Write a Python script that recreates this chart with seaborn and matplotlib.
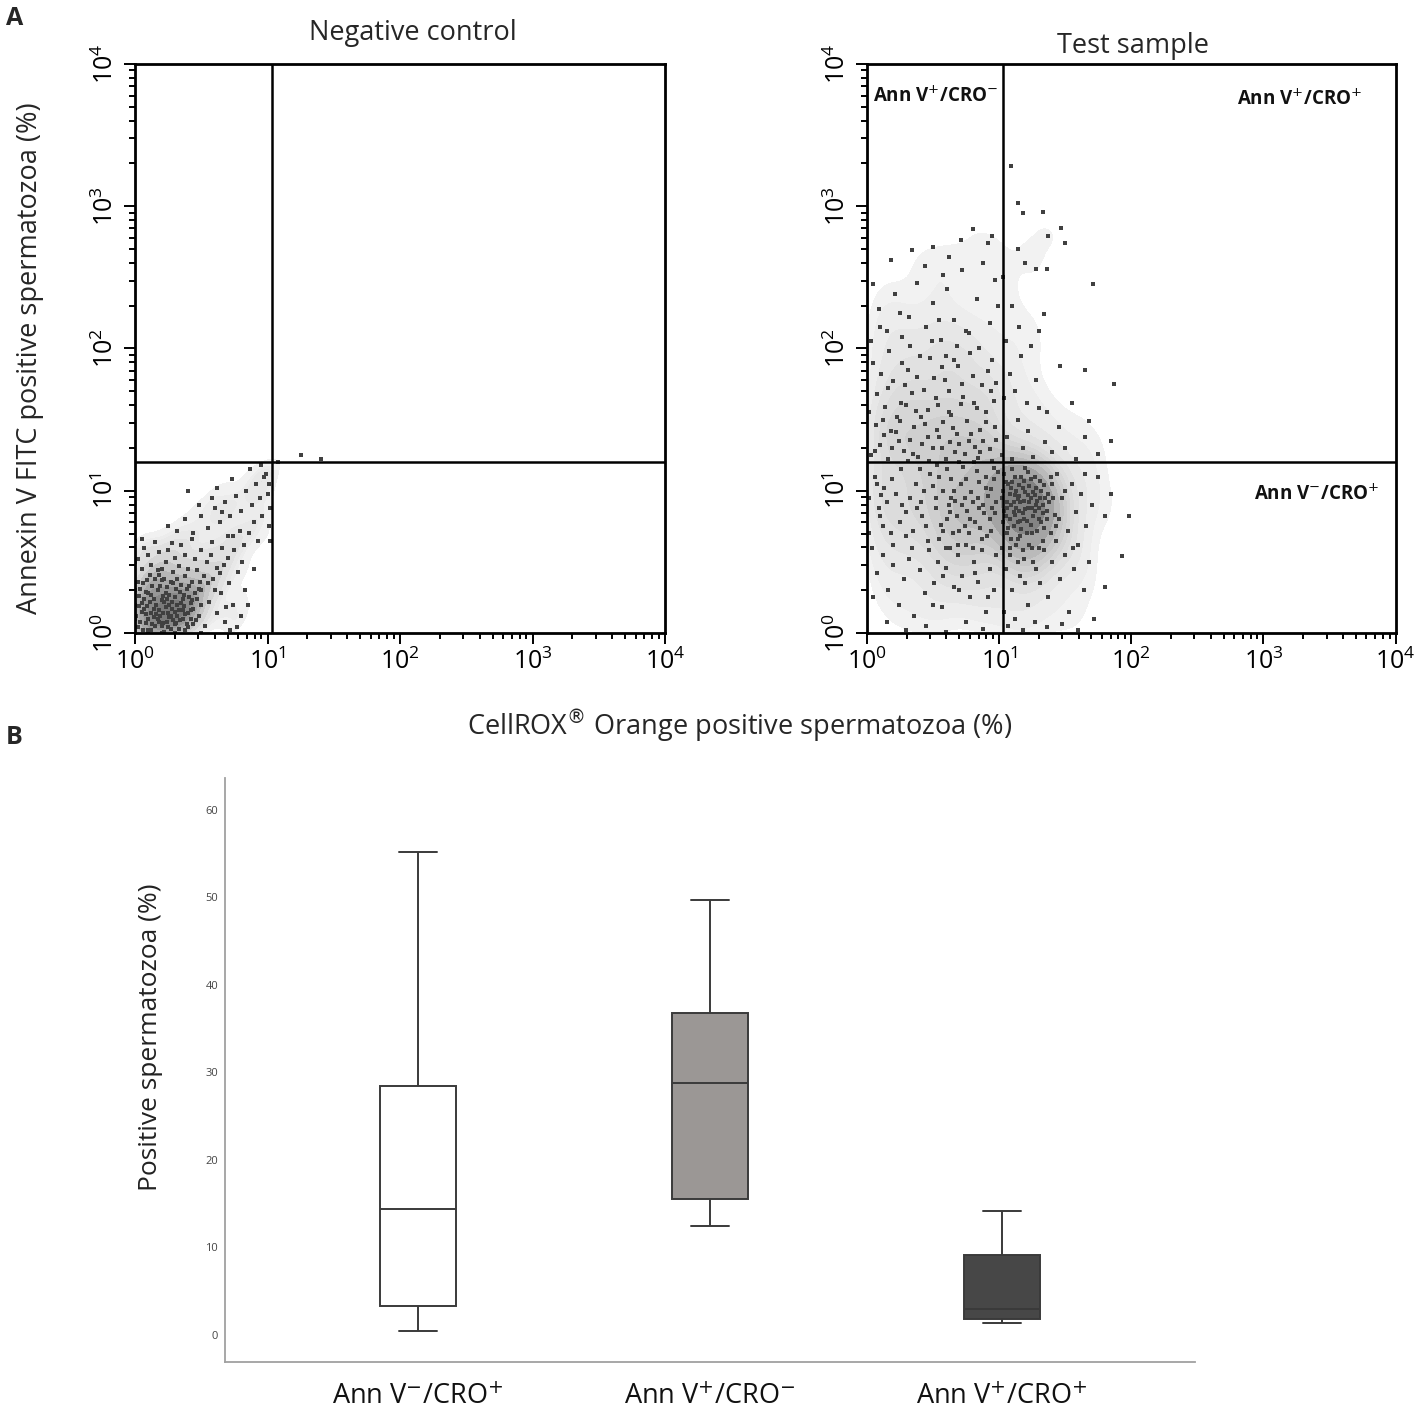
import numpy as np
import pandas as pd
import matplotlib
matplotlib.use("Agg")
import matplotlib.pyplot as plt
import seaborn as sns
from matplotlib.colors import LinearSegmentedColormap

# ---- panel A: dot plots, values read as log10 units off the 4-decade axes ----
gate_x_log = 1.03   # CellROX Orange gate
gate_y_log = 1.2    # Annexin V gate

neg_core = [(0.02,0.04),(0.05,0.15),(0.08,0.07),(0.11,0.22),(0.14,0.11),(0.17,0.3),(0.2,0.05),(0.23,0.18),(0.26,0.27),(0.29,0.09),
            (0.32,0.2),(0.35,0.34),(0.38,0.13),(0.41,0.25),(0.44,0.06),(0.03,0.26),(0.06,0.35),(0.09,0.19),(0.12,0.02),(0.15,0.38),
            (0.18,0.16),(0.21,0.26),(0.24,0.08),(0.27,0.36),(0.3,0.15),(0.33,0.03),(0.36,0.24),(0.39,0.31),(0.42,0.16),(0.45,0.28),
            (0.01,0.12),(0.04,0.31),(0.07,0.24),(0.1,0.1),(0.13,0.33),(0.16,0.2),(0.19,0.12),(0.22,0.38),(0.25,0.14),(0.28,0.22),
            (0.31,0.07),(0.34,0.29),(0.37,0.19),(0.4,0.04),(0.43,0.36),(0.06,0.02),(0.12,0.27),(0.18,0.08),(0.24,0.32),(0.3,0.25),
            (0.36,0.1),(0.42,0.21),(0.09,0.37),(0.15,0.05),(0.21,0.14),(0.27,0.03),(0.33,0.16),(0.39,0.06),(0.03,0.19),(0.26,0.2),
            (0.14,0.17),(0.2,0.23),(0.32,0.12),(0.08,0.13),(0.22,0.01),(0.38,0.4),(0.17,0.44),(0.11,0.41),(0.05,0.45),(0.29,0.43),
            (0.04,0.08),(0.07,0.17),(0.1,0.28),(0.13,0.06),(0.16,0.13),(0.19,0.33),(0.22,0.22),(0.25,0.04),(0.28,0.17),(0.31,0.31),
            (0.34,0.09),(0.37,0.27),(0.4,0.14),(0.43,0.23),(0.46,0.09),(0.02,0.36),(0.08,0.29),(0.14,0.24),(0.2,0.37),(0.26,0.11),
            (0.32,0.38),(0.38,0.02),(0.44,0.17),(0.5,0.2),(0.1,0.02),(0.17,0.1),(0.23,0.28),(0.29,0.35),(0.35,0.21),(0.41,0.33),
            (0.05,0.21),(0.12,0.14),(0.18,0.41),(0.24,0.24),(0.3,0.06),(0.36,0.16),(0.42,0.1),(0.48,0.31),(0.27,0.12),(0.21,0.07),
            (0.0,0.1),(0.0,0.3),(0.0,0.5),(0.0,0.2),(0.0,0.65),(0.1,0.0),(0.3,0.0),(0.5,0.0),(0.2,0.0)]
neg_middle = [(0.02,0.52),(0.07,0.6),(0.12,0.48),(0.18,0.57),(0.23,0.5),(0.28,0.63),(0.33,0.47),(0.38,0.55),(0.43,0.66),(0.47,0.44),
              (0.5,0.58),(0.54,0.5),(0.58,0.64),(0.62,0.46),(0.66,0.6),(0.7,0.53),(0.74,0.68),(0.48,0.12),(0.5,0.3),(0.53,0.05),
              (0.56,0.22),(0.59,0.38),(0.62,0.14),(0.65,0.28),(0.68,0.08),(0.71,0.35),(0.74,0.2),(0.77,0.04),(0.52,0.4),(0.6,0.3),
              (0.47,0.24),(0.55,0.35),(0.64,0.42),(0.05,0.66),(0.15,0.64),(0.25,0.58),(0.35,0.62),(0.45,0.52),(0.57,0.55),(0.67,0.48),
              (0.1,0.55),(0.2,0.45),(0.3,0.53),(0.4,0.45),(0.49,0.36),(0.72,0.02),(0.8,0.12),(0.83,0.3),(0.78,0.43),(0.69,0.18)]
neg_tail = [(0.32,0.72),(0.38,0.8),(0.44,0.7),(0.5,0.82),(0.55,0.74),(0.6,0.88),(0.64,0.78),(0.68,0.92),(0.72,0.82),(0.76,0.96),
            (0.8,0.86),(0.84,1.0),(0.88,0.9),(0.91,1.05),(0.94,0.95),(0.97,1.1),(1.0,0.98),(1.02,0.88),(1.01,0.75),(1.02,0.65),
            (1.01,1.05),(0.99,1.12),(0.86,0.7),(0.9,0.78),(0.79,0.72),(0.7,0.68),(0.82,0.62),(0.75,0.58),(0.93,0.65),(0.96,0.82),
            (0.58,0.95),(0.48,0.9),(0.25,0.75),(0.4,1.0),(0.62,1.02),(0.87,1.15),(0.73,1.08),(0.95,1.18),(0.81,0.5),(0.9,0.45),
            (0.85,0.2),(0.66,0.85),(1.08,1.2),(1.25,1.25),(1.4,1.22)]

test_upper_left = [(0.03,1.25),(0.1,1.32),(0.16,1.22),(0.22,1.41),(0.28,1.28),(0.33,1.36),(0.39,1.24),(0.44,1.47),(0.5,1.3),(0.55,1.38),
                   (0.6,1.22),(0.65,1.44),(0.7,1.33),(0.74,1.26),(0.79,1.4),(0.84,1.23),(0.88,1.35),(0.93,1.29),(0.97,1.45),(0.07,1.46),
                   (0.13,1.39),(0.19,1.3),(0.25,1.49),(0.36,1.45),(0.47,1.21),(0.58,1.48),(0.67,1.27),(0.76,1.49),(0.86,1.43),(0.95,1.21),
                   (0.31,1.21),(0.42,1.33),(0.53,1.43),(0.63,1.34),(0.82,1.31),
                   (0.02,1.55),(0.08,1.68),(0.14,1.59),(0.2,1.77),(0.26,1.62),(0.31,1.85),(0.37,1.56),(0.43,1.71),(0.48,1.93),(0.54,1.6),
                   (0.59,1.78),(0.64,1.53),(0.69,1.88),(0.73,1.66),(0.78,1.97),(0.83,1.58),(0.87,1.74),(0.92,1.84),(0.96,1.63),(0.05,1.9),
                   (0.11,1.82),(0.17,1.98),(0.23,1.52),(0.34,1.69),(0.4,1.95),(0.46,1.57),(0.57,1.87),(0.62,1.7),(0.71,1.61),(0.8,1.81),
                   (0.9,1.55),(0.98,1.76),(0.29,1.74),(0.51,1.79),(0.66,1.92),
                   (0.03,2.05),(0.09,2.28),(0.15,2.12),(0.21,2.38),(0.27,2.08),(0.32,2.22),(0.38,2.46),(0.45,2.15),(0.5,2.32),(0.56,2.06),
                   (0.61,2.42),(0.66,2.2),(0.72,2.55),(0.77,2.11),(0.83,2.35),(0.88,2.6),(0.93,2.18),(0.97,2.48),(0.05,2.45),(0.34,2.69),
                   (0.5,2.71),(0.62,2.64),(0.71,2.76),(0.8,2.84),(0.95,2.79),(0.92,2.74),(0.44,2.58),(0.18,2.62),(0.58,2.52),(0.99,2.3),
                   (0.25,2.25),(0.68,2.02),
                   (0.06,1.28),(0.12,1.5),(0.18,1.42),(0.24,1.35),(0.3,1.6),(0.35,1.26),(0.41,1.52),(0.46,1.38),(0.52,1.65),(0.57,1.3),
                   (0.62,1.55),(0.68,1.4),(0.72,1.75),(0.77,1.35),(0.81,1.62),(0.86,1.27),(0.9,1.48),(0.94,1.7),(0.98,1.36),(0.16,1.72),
                   (0.27,1.9),(0.38,1.8),(0.49,2.05),(0.6,1.95),(0.75,2.12),(0.85,2.0),(0.95,1.92),(0.1,2.15),(0.33,2.02),(0.55,2.2)]
test_lower_left = [(0.02,0.95),(0.06,1.1),(0.1,0.82),(0.13,1.02),(0.18,0.7),(0.22,0.98),(0.26,1.15),(0.3,0.85),(0.34,0.6),(0.37,1.05),
                   (0.41,0.92),(0.45,0.75),(0.48,1.12),(0.52,0.88),(0.55,0.66),(0.58,1.0),(0.61,0.8),(0.64,1.08),(0.67,0.93),(0.7,0.72),
                   (0.73,1.17),(0.76,0.86),(0.79,0.99),(0.82,0.78),(0.85,1.06),(0.88,0.9),(0.91,0.68),(0.94,1.01),(0.97,0.84),(0.99,1.13),
                   (0.04,0.6),(0.08,0.42),(0.12,0.55),(0.16,0.3),(0.2,0.48),(0.24,0.2),(0.28,0.38),(0.32,0.52),(0.36,0.12),(0.4,0.44),
                   (0.44,0.28),(0.47,0.58),(0.51,0.35),(0.54,0.5),(0.57,0.18),(0.6,0.46),(0.63,0.6),(0.66,0.32),(0.69,0.55),(0.72,0.4),
                   (0.75,0.62),(0.78,0.25),(0.81,0.5),(0.84,0.36),(0.87,0.58),(0.9,0.15),(0.93,0.45),(0.96,0.3),(0.98,0.55),(0.15,0.08),
                   (0.3,0.02),(0.45,0.05),(0.6,0.01),(0.75,0.08),(0.88,0.03),(0.05,0.25),(0.02,0.7),(0.11,0.97),(0.25,0.78),(0.38,0.88),
                   (0.5,1.03),(0.62,0.9),(0.71,1.05),(0.8,0.92),(0.86,0.74),(0.92,0.96),(0.96,1.08),(0.68,0.82),(0.56,0.76),(0.43,1.0),
                   (0.83,1.14),(0.77,0.7),(0.9,1.1),(0.95,0.88),(0.65,0.7),(0.74,0.95),(0.53,1.18),(0.35,0.72),(0.19,1.08),(0.09,0.88),
                   (0.52,0.95),(0.55,1.1),(0.58,0.72),(0.61,1.15),(0.63,0.85),(0.66,1.0),(0.69,0.62),(0.72,0.9),(0.75,1.08),(0.78,0.8),
                   (0.81,1.2),(0.84,0.95),(0.87,0.66),(0.9,1.02),(0.93,0.8),(0.96,1.16),(0.98,0.92),(0.6,0.6),(0.7,1.2),(0.8,0.6),
                   (0.89,0.84),(0.64,0.95),(0.74,0.75),(0.85,0.88),(0.94,0.72),(0.42,0.82),(0.33,0.95),(0.27,0.9),(0.15,0.92),(0.08,1.05),
                   (0.4,1.15),(0.46,0.65),(0.2,0.62),(0.12,0.75),(0.3,0.68),(0.58,0.4),(0.7,0.3),(0.82,0.42),(0.92,0.25),(0.5,0.2)]
test_lower_right = [(1.02,0.95),(1.05,0.82),(1.07,1.05),(1.09,0.9),(1.11,0.75),(1.13,1.0),(1.15,0.86),(1.17,1.1),(1.19,0.93),(1.21,0.79),
                    (1.23,1.03),(1.25,0.88),(1.27,0.97),(1.29,0.72),(1.31,1.07),(1.33,0.84),(1.35,0.95),(1.04,1.12),(1.06,0.7),(1.08,0.98),
                    (1.1,1.15),(1.12,0.83),(1.14,0.94),(1.16,0.68),(1.18,1.02),(1.2,0.87),(1.22,1.13),(1.24,0.76),(1.26,0.99),(1.28,0.9),
                    (1.3,0.8),(1.32,1.0),(1.34,0.74),(1.38,0.92),(1.4,1.05),(1.42,0.83),(1.03,0.78),(1.13,0.88),(1.19,1.07),(1.24,0.95),
                    (1.16,0.79),(1.27,1.1),(1.09,1.02),(1.21,0.7),(1.36,0.86),(1.11,0.92),(1.22,0.97),(1.15,1.04),(1.29,0.93),(1.06,0.88),
                    (1.02,0.6),(1.05,0.45),(1.08,0.55),(1.1,0.3),(1.13,0.62),(1.16,0.4),(1.19,0.52),(1.22,0.2),(1.25,0.6),(1.28,0.45),
                    (1.31,0.35),(1.34,0.58),(1.37,0.25),(1.4,0.5),(1.43,0.65),(1.46,0.38),(1.5,0.55),(1.53,0.15),(1.57,0.45),(1.6,0.62),
                    (1.64,0.3),(1.68,0.5),(1.72,0.1),(1.04,0.15),(1.07,0.05),(1.12,0.1),(1.18,0.02),(1.27,0.08),(1.36,0.04),(1.48,0.06),
                    (1.6,0.02),(1.45,0.8),(1.48,0.95),(1.52,0.72),(1.55,1.05),(1.58,0.85),(1.62,0.98),(1.66,0.75),(1.7,0.9),(1.75,1.1),
                    (1.8,0.82),(1.85,0.98),(1.98,0.82),(1.93,0.54),(1.8,0.32),(1.44,1.12),(1.5,1.0),(1.39,0.7),(1.33,0.65),(1.26,0.5),
                    (1.2,0.35),(1.14,0.5),(1.09,0.66),(1.56,0.6),(1.65,1.12),
                    (1.03,1.0),(1.06,0.92),(1.08,0.8),(1.1,1.06),(1.12,0.97),(1.14,0.78),(1.16,0.92),(1.18,0.84),(1.2,0.99),(1.22,0.88),
                    (1.24,1.08),(1.26,0.82),(1.28,1.02),(1.3,0.88),(1.32,0.78),(1.34,1.04),(1.37,0.98),(1.05,1.06),(1.07,0.74),(1.11,0.85),
                    (1.15,0.96),(1.17,0.73),(1.19,0.8),(1.23,0.92),(1.25,0.7),(1.27,0.86),(1.31,0.95),(1.33,0.9),(1.36,0.8),(1.39,1.1),
                    (1.41,0.95),(1.43,0.75),(1.04,0.86),(1.12,1.1),(1.2,1.16),(1.14,0.66),(1.23,0.62),(1.3,0.6),(1.18,0.58),(1.08,0.6)]
test_upper_right = [(1.02,1.25),(1.06,1.38),(1.1,1.22),(1.14,1.5),(1.18,1.3),(1.22,1.42),(1.26,1.24),(1.3,1.58),(1.35,1.34),(1.4,1.27),
                    (1.45,1.45),(1.5,1.3),(1.58,1.22),(1.65,1.38),(1.04,1.65),(1.08,1.82),(1.12,1.7),(1.17,1.95),(1.21,1.62),(1.28,1.78),
                    (1.36,1.55),(1.05,2.05),(1.1,2.3),(1.15,2.15),(1.03,2.5),(1.24,2.02),
                    (1.09,3.28),(1.14,3.02),(1.18,2.95),(1.33,2.96),(1.47,2.85),(1.37,2.79),(1.5,2.74),(1.71,2.45),(1.28,2.56),(1.36,2.56),
                    (1.2,2.6),(1.14,2.7),(1.34,2.24),(1.87,1.75),(1.65,1.85),(1.46,1.88),(1.3,2.12),(1.55,1.62),(1.68,1.49),(1.85,1.35),
                    (1.75,1.26)]

# ---- panel B: box plots (min, Q1, median, Q3, max) ----
box_labels = [r"Ann V$^{-}$/CRO$^{+}$", r"Ann V$^{+}$/CRO$^{-}$", r"Ann V$^{+}$/CRO$^{+}$"]
annv_neg_cro_pos = [0.4, 3.3, 14.4, 28.4, 55.1]
annv_pos_cro_neg = [12.4, 15.5, 28.8, 36.8, 49.7]
annv_pos_cro_pos = [1.3, 1.8, 3.0, 9.1, 14.2]
box_colors = ["#ffffff", "#9b9795", "#474747"]

sns.set_style("white")
plt.rcParams["font.family"] = ["Open Sans", "DejaVu Sans"]

fig = plt.figure(figsize=(14.2, 14.25), dpi=100)
ax_neg = fig.add_axes([0.0951, 0.5558, 0.3732, 0.3993])
ax_test = fig.add_axes([0.6104, 0.5558, 0.3725, 0.3993])
ax_box = fig.add_axes([0.1585, 0.0442, 0.6830, 0.4098])

dot_cmap = LinearSegmentedColormap.from_list("dots", ["#f4f4f4", "#737373"])


def dot_plot(ax, points):
    lx = np.array([p[0] for p in points])
    ly = np.array([p[1] for p in points])
    x = 10 ** lx
    y = 10 ** ly
    # smooth density wash under the dots to stand in for the overlapping events
    sns.kdeplot(x=x, y=y, log_scale=True, fill=True, cmap=dot_cmap,
                levels=np.linspace(0.1, 1.0, 12), bw_adjust=0.7, ax=ax)
    sns.scatterplot(x=x, y=y, marker="s", s=5, color="#404040", linewidth=0, ax=ax)
    ax.set_xscale("log")
    ax.set_yscale("log")
    ax.set_xlim(1, 1e4)
    ax.set_ylim(1, 1e4)
    ax.axvline(10 ** gate_x_log, color="black", lw=1.8)
    ax.axhline(10 ** gate_y_log, color="black", lw=1.8)
    ax.set_xlabel("")
    ax.set_ylabel("")
    for sp in ax.spines.values():
        sp.set_linewidth(2)
        sp.set_color("black")
    ax.tick_params(which="both", direction="out", top=False, right=False,
                   left=True, bottom=True, width=1.4, colors="black")
    ax.tick_params(which="major", length=8, labelsize=18)
    ax.tick_params(which="minor", length=4)
    ax.tick_params(axis="y", labelrotation=90)
    for lab in ax.get_yticklabels():
        lab.set_va("center")


dot_plot(ax_neg, neg_core + neg_middle + neg_tail)
dot_plot(ax_test, test_upper_left + test_lower_left + test_lower_right + test_upper_right)

qfont = dict(fontsize=13.5, fontweight="bold", color="#111111")
ax_test.text(10 ** 0.05, 10 ** 3.77, r"Ann V$^{+}$/CRO$^{-}$", ha="left", va="center", **qfont)
ax_test.text(10 ** 2.8, 10 ** 3.75, r"Ann V$^{+}$/CRO$^{+}$", ha="left", va="center", **qfont)
ax_test.text(10 ** 2.93, 10 ** 0.97, r"Ann V$^{-}$/CRO$^{+}$", ha="left", va="center", **qfont)

fig.text(0.2908, 0.9768, "Negative control", ha="center", va="center", fontsize=19.5)
fig.text(0.7979, 0.9677, "Test sample", ha="center", va="center", fontsize=19.5)
fig.text(0.0211, 0.7488, "Annexin V FITC positive spermatozoa (%)", rotation=90,
         ha="center", va="center", fontsize=19.5)
fig.text(0.5211, 0.4900, r"CellROX$^{\circledR}$ Orange positive spermatozoa (%)",
         ha="center", va="center", fontsize=19.5)
fig.text(0.004, 0.987, "A", ha="left", va="center", fontsize=18, fontweight="bold")
fig.text(0.004, 0.4828, "B", ha="left", va="center", fontsize=18, fontweight="bold")

# ---- panel B ----
box_df = pd.DataFrame({
    "group": [box_labels[0]] * 5 + [box_labels[1]] * 5 + [box_labels[2]] * 5,
    "value": annv_neg_cro_pos + annv_pos_cro_neg + annv_pos_cro_pos,
})
sns.boxplot(data=box_df, x="group", y="value", hue="group", order=box_labels,
            hue_order=box_labels, palette=box_colors, saturation=1, whis=(0, 100),
            width=0.26, linewidth=1.4, linecolor="#3a3a3a", fliersize=0,
            legend=False, ax=ax_box)
ax_box.set_xlim(-0.66, 2.66)
ax_box.set_ylim(-3.1, 63.6)
ax_box.set_yticks([0, 10, 20, 30, 40, 50, 60])
ax_box.set_xlabel("")
ax_box.set_ylabel("Positive spermatozoa (%)", fontsize=19, color="#222222")
ax_box.yaxis.set_label_coords(-0.064, 0.556)
sns.despine(ax=ax_box)
for side in ["left", "bottom"]:
    ax_box.spines[side].set_color("#a0a0a0")
    ax_box.spines[side].set_linewidth(1.3)
ax_box.tick_params(axis="y", length=0, labelsize=8, labelcolor="#444444", pad=5)
ax_box.tick_params(axis="x", length=0, labelsize=19.5, labelcolor="#111111", pad=15)

fig.savefig("out.png", dpi=100)
